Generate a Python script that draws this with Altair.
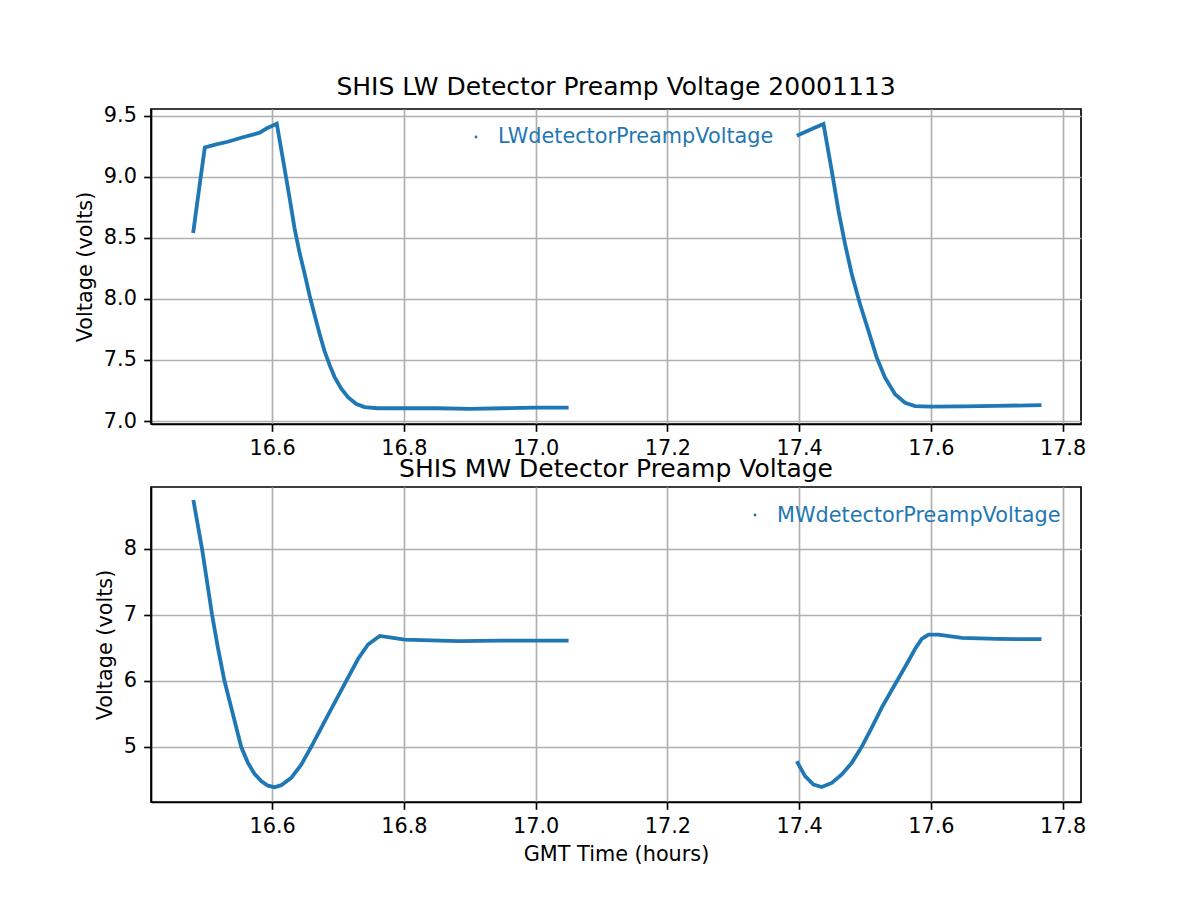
import altair as alt
import pandas as pd

# ---- data ----
lw_t1 = [16.480, 16.489, 16.4977, 16.515, 16.5326, 16.5529, 16.581, 16.5935, 16.607,
         16.6187, 16.6263, 16.6339, 16.6415, 16.6491, 16.6567, 16.6643,
         16.6719, 16.6795, 16.6871, 16.6948, 16.7049, 16.7151, 16.7278, 16.7404,
         16.76, 16.80, 16.85, 16.90, 16.95, 17.00, 17.05]
lw_v1 = [8.54, 8.90, 9.24, 9.265, 9.287, 9.320, 9.361, 9.402, 9.435,
         9.07, 8.83, 8.58, 8.38, 8.21, 8.03, 7.87,
         7.715, 7.573, 7.46, 7.36, 7.265, 7.195, 7.14, 7.114,
         7.105, 7.105, 7.105, 7.10, 7.105, 7.11, 7.11]
lw_t2 = [17.3965, 17.4193, 17.437, 17.4496, 17.4598, 17.4698, 17.480, 17.4926,
         17.5053, 17.5179, 17.5305, 17.5457, 17.5609, 17.576, 17.60, 17.65,
         17.70, 17.768]
lw_v2 = [9.336, 9.391, 9.432, 9.049, 8.721, 8.448, 8.202, 7.956,
         7.738, 7.519, 7.355, 7.219, 7.150, 7.123, 7.118, 7.12,
         7.125, 7.13]

mw_t1 = [16.4803, 16.4935, 16.5087, 16.5174, 16.5275, 16.5402, 16.5529, 16.563,
         16.5731, 16.5833, 16.5935, 16.6035, 16.6137, 16.6289, 16.6441, 16.6593,
         16.6847, 16.7125, 16.7303, 16.7455, 16.7632, 16.781, 16.801, 16.8824,
         16.95, 17.00, 17.05]
mw_v1 = [8.74, 8.00, 7.00, 6.51, 6.00, 5.50, 5.00, 4.76,
         4.59, 4.48, 4.41, 4.387, 4.418, 4.529, 4.73, 5.00,
         5.48, 6.00, 6.33, 6.55, 6.68, 6.654, 6.624, 6.60,
         6.61, 6.61, 6.61]
mw_t2 = [17.3965, 17.4091, 17.4219, 17.4344, 17.4496, 17.4648, 17.480, 17.4951,
         17.5103, 17.5255, 17.5407, 17.5517, 17.566, 17.576, 17.5862, 17.5964,
         17.6115, 17.647, 17.70, 17.768]
mw_v2 = [4.78, 4.554, 4.428, 4.391, 4.452, 4.58, 4.756, 5.00,
         5.289, 5.594, 5.86, 6.05, 6.30, 6.482, 6.635, 6.70,
         6.70, 6.65, 6.635, 6.63]

x_ticks = [16.6, 16.8, 17.0, 17.2, 17.4, 17.6, 17.8]
lw_ticks = [7.0, 7.5, 8.0, 8.5, 9.0, 9.5]
mw_ticks = [5, 6, 7, 8]

lw_label = "LWdetectorPreampVoltage"
mw_label = "MWdetectorPreampVoltage"
lw_title = "SHIS LW Detector Preamp Voltage 20001113"
mw_title = "SHIS MW Detector Preamp Voltage"
x_title = "GMT Time (hours)"
y_title = "Voltage (volts)"

BLUE = "#1f77b4"
FONT = "DejaVu Sans"
W, H = 930, 315


def seg_df(t1, v1, t2, v2):
    return pd.DataFrame({
        "t": t1 + t2,
        "v": v1 + v2,
        "seg": [1] * len(t1) + [2] * len(t2),
    })


def panel(df, label, title, ydomain, yticks, yfmt, xtitle, leg_dot, leg_txt):
    x = alt.X("t:Q", scale=alt.Scale(domain=[16.416, 17.828], nice=False, zero=False),
              axis=alt.Axis(values=x_ticks, format=".1f", title=xtitle))
    y = alt.Y("v:Q", scale=alt.Scale(domain=ydomain, nice=False, zero=False),
              axis=alt.Axis(values=yticks, format=yfmt, title=y_title))
    line = alt.Chart(df).mark_line(color=BLUE, strokeWidth=3.8).encode(x=x, y=y, detail="seg:N")
    ldf = pd.DataFrame({"label": [label]})
    dot = alt.Chart(ldf).mark_circle(color=BLUE, size=8, opacity=1).encode(
        x=alt.value(leg_dot[0]), y=alt.value(leg_dot[1]))
    txt = alt.Chart(ldf).mark_text(align="left", baseline="alphabetic", fontSize=20.8,
                                   font=FONT, color=BLUE).encode(
        x=alt.value(leg_txt[0]), y=alt.value(leg_txt[1]), text="label:N")
    return alt.layer(line, dot, txt).properties(
        width=W, height=H,
        title=alt.TitleParams(title, fontSize=25, font=FONT, fontWeight="normal",
                              color="black", baseline="bottom", offset=-20, anchor="middle"))


top = panel(seg_df(lw_t1, lw_v1, lw_t2, lw_v2), lw_label, lw_title,
            [6.976, 9.555], lw_ticks, ".1f", None, (325, 28), (347, 34))
bottom = panel(seg_df(mw_t1, mw_v1, mw_t2, mw_v2), mw_label, mw_title,
               [4.163, 8.937], mw_ticks, "d", x_title, (604, 28), (626, 35))

chart = alt.vconcat(top, bottom, spacing=63, bounds="flush").properties(
    autosize=alt.AutoSizeParams(type="pad"),
    padding={"left": 65, "top": 65, "right": 10, "bottom": 10},
    background="white",
).configure_view(
    stroke="black", strokeWidth=1.67
).configure_axis(
    grid=True, gridColor="#b0b0b0", gridWidth=1.67, gridOpacity=1,
    domainColor="black", domainWidth=1.67,
    tickColor="black", tickWidth=1.67, tickSize=7.3,
    labelFont=FONT, labelFontSize=20.8, labelColor="black", labelPadding=7.3,
    titleFont=FONT, titleFontSize=20.8, titleFontWeight="normal", titleColor="black",
    titlePadding=8,
)

chart.save("out.html", embed_options={"renderer": "svg", "actions": False})
